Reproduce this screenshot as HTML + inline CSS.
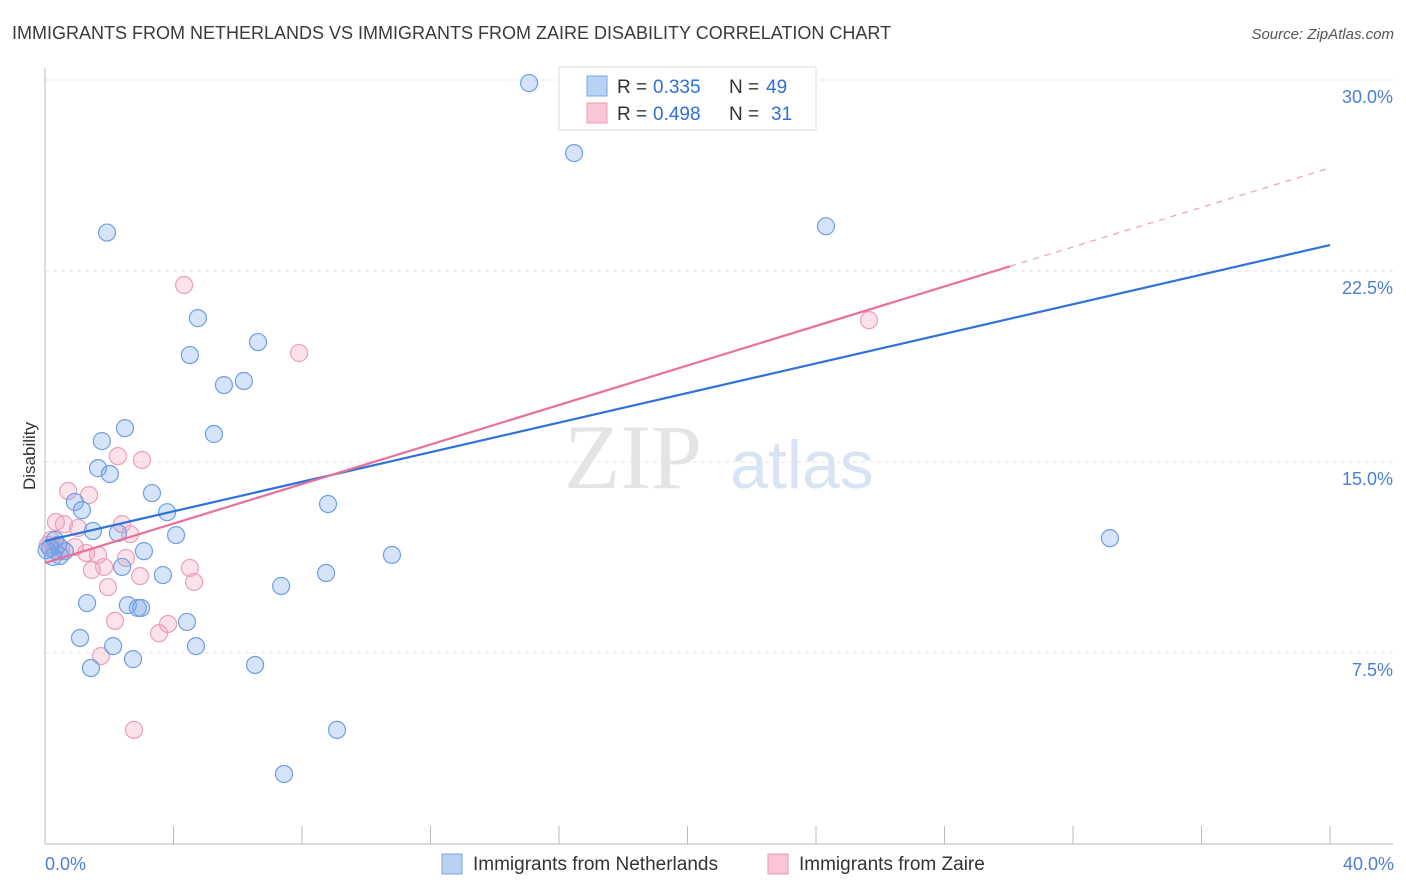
<!DOCTYPE html>
<html><head><meta charset="utf-8"><style>
body{margin:0;background:#fff;font-family:"Liberation Sans",sans-serif;}
svg{display:block}
</style></head><body>
<svg id="chart" width="1406" height="892">
<text x="12" y="39" font-size="18" fill="#3a3a3a">IMMIGRANTS FROM NETHERLANDS VS IMMIGRANTS FROM ZAIRE DISABILITY CORRELATION CHART</text>
<text x="1394" y="39" font-size="15" fill="#555" font-style="italic" text-anchor="end">Source: ZipAtlas.com</text>
<text x="633" y="488" font-size="92" fill="#e4e4e4" font-family="Liberation Serif,serif" text-anchor="middle">ZIP</text>
<text x="802" y="488" font-size="68" fill="#d8e4f4" text-anchor="middle">atlas</text>
<g id="grid"></g>
<g id="axes"></g>
<g id="pts"></g>
<g id="lines"></g>
<text x="35" y="456" font-size="17" fill="#333" text-anchor="middle" transform="rotate(-90 35 456)">Disability</text>
<text x="45" y="870" font-size="18" fill="#4a7fd6">0.0%</text>
<text x="1394" y="870" font-size="18" fill="#4a7fd6" text-anchor="end">40.0%</text>
<g>
<rect x="559" y="67" width="257" height="63" fill="#fff" stroke="#ddd"/>
<rect x="587" y="76" width="20" height="20" fill="#b9d1f4" stroke="#7aa6e6"/>
<rect x="587" y="103" width="20" height="20" fill="#fac6d6" stroke="#ec9ab4"/>
<text x="617" y="93" font-size="19" fill="#333">R =</text>
<text x="653" y="93" font-size="19" fill="#2f6fd6">0.335</text>
<text x="729" y="93" font-size="19" fill="#333">N =</text>
<text x="766" y="93" font-size="19" fill="#2f6fd6">49</text>
<text x="617" y="120" font-size="19" fill="#333">R =</text>
<text x="653" y="120" font-size="19" fill="#2f6fd6">0.498</text>
<text x="729" y="120" font-size="19" fill="#333">N =</text>
<text x="771" y="120" font-size="19" fill="#2f6fd6">31</text>
</g>
<g>
<rect x="442" y="854" width="20" height="20" fill="#b9d1f4" stroke="#7aa6e6"/>
<text x="473" y="870" font-size="19" fill="#333">Immigrants from Netherlands</text>
</g>
<g>
<rect x="768" y="854" width="20" height="20" fill="#fac6d6" stroke="#ec9ab4"/>
<text x="799" y="870" font-size="19" fill="#333">Immigrants from Zaire</text>
</g>
</svg>
<script>
const yTicks=[7.5,15,22.5,30];
const yTickLabels=["7.5%","15.0%","22.5%","30.0%"];
const xTicks=[4,8,12,16,20,24,28,32,36,40];
const blueX=[15.07,16.47,1.93,24.31,4.76,6.63,4.51,5.57,6.19,5.26,2.49,1.77,1.65,2.02,3.33,0.93,1.15,3.80,8.81,1.49,4.08,2.27,0.31,0.16,0.47,0.62,3.08,10.80,33.15,2.40,3.67,8.75,7.35,1.31,2.58,2.89,2.99,4.42,1.09,2.12,4.70,2.74,1.43,6.54,9.09,7.44,0.25,0.40,0.05];
const blueY=[29.88,27.13,24.01,24.26,20.65,19.71,19.20,18.02,18.18,16.10,16.33,15.82,14.76,14.53,13.78,13.43,13.11,13.03,13.35,12.29,12.13,12.21,11.94,11.62,11.31,11.50,11.50,11.35,12.01,10.88,10.56,10.64,10.13,9.46,9.38,9.27,9.27,8.72,8.09,7.77,7.77,7.26,6.91,7.03,4.48,2.75,11.27,11.74,11.54];
const pinkX=[4.33,7.91,25.65,2.27,3.02,0.72,1.37,0.34,0.59,1.03,2.40,2.65,0.19,0.50,0.93,1.28,1.65,2.52,1.46,1.84,4.51,2.96,4.64,1.96,2.18,3.83,3.55,1.74,2.77,0.09,0.31];
const pinkY=[21.95,19.28,20.57,15.23,15.08,13.86,13.70,12.64,12.56,12.41,12.56,12.17,11.94,11.62,11.66,11.43,11.35,11.23,10.76,10.88,10.84,10.52,10.29,10.09,8.76,8.64,8.28,7.38,4.48,11.74,11.54];
const blueTrend=[11.9,23.52];
const pinkTrend=[11.03,26.55];
const pinkSolidEnd=30.04;

const NS="http://www.w3.org/2000/svg";
const xs=v=>45+v*(1330-45)/40;
const ys=v=>844-v*(844-80)/30;
function mk(tag,attrs,parent){const e=document.createElementNS(NS,tag);for(const k in attrs)e.setAttribute(k,attrs[k]);document.getElementById(parent).appendChild(e);return e;}
yTicks.forEach((t,i)=>{
 const l=mk('line',{x1:45,x2:1393,y1:ys(t),y2:ys(t),stroke:'#e2e2e2','stroke-dasharray':'4,4'},'grid');
 
 
 const tx=mk('text',{x:1393,y:ys(t)+23,'font-size':18,fill:'#4a7fd6','text-anchor':'end'},'grid');
 tx.textContent=yTickLabels[i];
 
 
});
const ax=mk('line',{x1:45,x2:1393,y1:844,y2:844,stroke:'#bbb'},'axes');


const ay=mk('line',{x1:45,x2:45,y1:68,y2:844,stroke:'#bbb'},'axes');


xTicks.forEach(t=>{
 const l=mk('line',{x1:xs(t),x2:xs(t),y1:826,y2:844,stroke:'#bbb'},'axes');
 
 
});
pinkX.forEach((x,i)=>{
 const c=mk('circle',{cx:xs(x),cy:ys(pinkY[i]),r:8.5,fill:'rgba(244,160,190,0.3)',stroke:'#eaa0b8','stroke-width':1.2},'pts');
 
 
});
blueX.forEach((x,i)=>{
 const c=mk('circle',{cx:xs(x),cy:ys(blueY[i]),r:8.5,fill:'rgba(120,165,235,0.3)',stroke:'#6f9fe0','stroke-width':1.2},'pts');
 
 
});
const bl=mk('line',{x1:xs(0),y1:ys(blueTrend[0]),x2:xs(40),y2:ys(blueTrend[1]),stroke:'#2f72d8','stroke-width':2.2},'lines');


const pAt=x=>pinkTrend[0]+(pinkTrend[1]-pinkTrend[0])*x/40;
const pl=mk('line',{x1:xs(0),y1:ys(pAt(0)),x2:xs(pinkSolidEnd),y2:ys(pAt(pinkSolidEnd)),stroke:'#e8709a','stroke-width':2.2},'lines');


const pd=mk('line',{x1:xs(pinkSolidEnd),y1:ys(pAt(pinkSolidEnd)),x2:xs(40),y2:ys(pAt(40)),stroke:'#e8a0b8','stroke-width':1.2,'stroke-dasharray':'6,6'},'lines');


</script>
</body></html>
